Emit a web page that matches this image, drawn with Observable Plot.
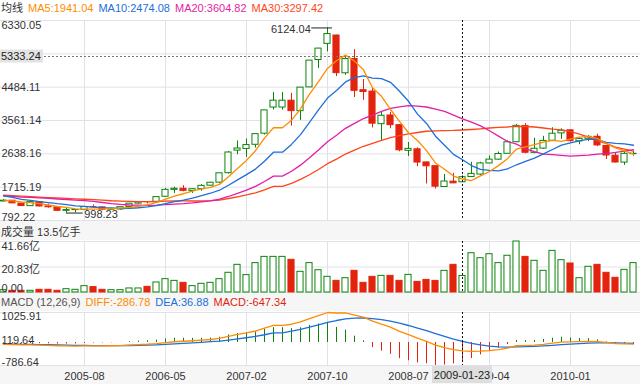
<!DOCTYPE html>
<html><head><meta charset="utf-8">
<script src="https://cdn.jsdelivr.net/npm/d3@7"></script>
<script src="https://cdn.jsdelivr.net/npm/@observablehq/plot@0.6"></script>
<style>
body{margin:0;background:#fff;}
#wrap{position:relative;width:640px;height:384px;overflow:hidden;font-family:"Liberation Sans",Arial,"Noto Sans CJK SC",sans-serif;font-size:11px;color:#333;background:#fff;}
.box{position:absolute;left:0;width:640px;}
.hdr{position:absolute;left:0;width:640px;white-space:nowrap;padding-left:1px;box-sizing:border-box;}
.hdr span{margin-right:5px;}
.band{background:#f6f6f6;}
svg{position:absolute;left:0;}
</style></head><body><div id="wrap"></div>
<script>
// ---------------- data ----------------
const months = ["2004-11","2004-12","2005-01","2005-02","2005-03","2005-04","2005-05","2005-06","2005-07","2005-08",
"2005-09","2005-10","2005-11","2005-12","2006-01","2006-02","2006-03","2006-04","2006-05","2006-06",
"2006-07","2006-08","2006-09","2006-10","2006-11","2006-12","2007-01","2007-02","2007-03","2007-04",
"2007-05","2007-05","2007-06","2007-07","2007-08","2007-09","2007-10","2007-11","2007-12","2008-01",
"2008-02","2008-03","2008-04","2008-05","2008-06","2008-07","2008-08","2008-09","2008-10","2008-11",
"2008-12","2009-01","2009-02","2009-03","2009-04","2009-05","2009-06","2009-07","2009-08","2009-09",
"2009-10","2009-11","2009-12","2010-01","2010-02","2010-03","2010-04","2010-05","2010-06","2010-07",
"2010-08"];
const opens = [1320,1340,1261,1190,1305,1181,1158,1060,1080,1084,1163,1156,1092,1099,1163,1261,1300,1298,1450,1640,1672,1611,1660,1756,1840,2103,2728,2774,2889,3196,3920,3920,4110,3820,4478,5236,5683,5914,4868,5265,4400,4362,3459,3700,3433,2722,2763,2400,2296,1720,1868,1850,1996,2064,2372,2478,2639,2960,3408,2665,2783,2999,3204,3289,2984,3056,3110,2856,2586,2396,2631];
const highs = [1376,1345,1270,1328,1316,1245,1163,1146,1094,1180,1223,1157,1105,1164,1260,1307,1308,1445,1682,1713,1757,1670,1785,1850,2100,2698,2995,3049,3184,3841,4335,4335,4312,4471,5219,5562,6124.04,5925,5337,5522,4696,4472,3786,3786,3445,2952,2804,2412,2312,2068,2100,2032,2402,2404,2579,2688,3000,3454,3478,3068,3123,3361,3333,3306,3077,3141,3181,2859,2656,2700,2707];
const lows = [1301,1259,1178,1184,1167,1135,1044,998.23,1004,1075,1130,1067,1074,1074,1152,1238,1250,1296,1446,1542,1586,1541,1603,1750,1811,2076,2614,2541,2800,3158,3850,3850,3404,3563,4474,5000,5462,4778,4812,4196,4123,3357,2990,3333,2695,2566,2284,1802,1665,1707,1814,1844,1992,2037,2369,2462,2630,2947,2639,2639,2762,2999,3039,2963,2890,2975,2836,2481,2382,2319,2574];
const closes = [1341,1267,1192,1306,1181,1159,1061,1081,1083,1163,1156,1093,1099,1161,1258,1299,1298,1440,1641,1672,1613,1659,1752,1838,2099,2675,2786,2881,3184,3841,4110,4110,3821,4471,5219,5552,5955,4872,5262,4383,4349,3473,3693,3433,2736,2776,2397,2294,1729,1871,1821,1991,2083,2373,2478,2633,2959,3412,2668,2779,2996,3195,3277,2989,3052,3109,2871,2592,2398,2638,2639];
const volumes = [1.9,1.4,1.4,1.4,2.2,2.2,1.4,2.7,2.2,5.2,4.4,2.2,1.9,1.9,3.3,3.3,4.6,8.2,10.9,9.5,7.9,5.2,7.1,7.9,10.9,16.1,22.6,14.2,24.0,29.1,29.1,29.1,26.7,16.9,24.0,18.2,12.8,9.5,11.7,17.7,7.9,12.8,13.6,13.6,9.5,14.4,8.7,10.3,9.5,17.7,22.6,13.5,32.1,28.0,31.3,24.0,30.0,41.66,29.1,25.9,17.7,34.0,26.4,23.7,11.7,21.0,22.6,16.1,12.0,18.5,24.0];
const ma5 = [1357,1334,1304,1285,1257,1221,1180,1158,1113,1109,1109,1115,1119,1134,1153,1182,1223,1291,1387,1470,1533,1605,1667,1707,1792,2005,2230,2456,2725,3073,3360,3360,3567,3885,4292,4635,5004,5214,5372,5205,4964,4468,4232,3866,3537,3222,3007,2727,2386,2213,2022,1941.04,1899,2028,2149,2312,2505,2771,2830,2890,2963,3010,2983,3047,3102,3124,3060,2923,2804,2722,2628];
const ma10 = [1476,1435,1380,1351,1313,1289,1257,1231,1199,1183,1165,1148,1138,1124,1131,1145,1169,1205,1261,1312,1357,1414,1479,1547,1631,1769,1918,2062,2216,2433,2683,2683,2899,3171,3509,3854,4182,4391,4629,4749,4799,4736,4723,4619,4371,4093,3737,3480,3126,2875,2622,2474.08,2313,2207,2181,2167,2223,2335,2429,2520,2637,2758,2877,2939,2996,3044,3035,2953,2926,2912,2876];
const ma20 = [1472,1459,1440,1431,1416,1403,1388,1374,1359,1342,1320,1291,1259,1237,1222,1217,1213,1218,1230,1248,1261,1281,1309,1335,1381,1457,1543,1633,1738,1872,2020,2020,2156,2325,2528,2743,2975,3154,3345,3482,3616,3709,3811,3895,3940,3974,3960,3935,3878,3812,3711,3604.82,3518,3413,3276,3130,2980,2907,2778,2697,2630,2616,2595,2573,2589,2605,2629,2644,2677,2716,2757];
const ma30 = [1496,1480,1465,1453,1440,1428,1416,1407,1393,1381,1370,1355,1339,1329,1321,1317,1315,1318,1326,1332,1333,1332,1332,1340,1359,1401,1448,1499,1559,1643,1735,1735,1820,1929,2060,2206,2365,2492,2632,2742,2848,2925,3012,3090,3142,3193,3229,3263,3272,3280,3285,3297.42,3312,3332,3354,3371,3381,3402,3395,3381,3353,3322,3304,3255,3183,3101,2998,2922,2827,2769,2712];
const diff = [-64.7,-73.0,-84.6,-83.7,-92.0,-99.2,-111.5,-118.3,-122.1,-117.3,-112.7,-112.9,-111.3,-103.8,-89.0,-73.1,-60.0,-37.7,-3.8,25.3,43.1,60.2,80.4,102.1,138.8,211.9,275.6,329.9,392.9,490.2,582.3,582.3,624.7,702.7,815.5,921.1,1025.91,1009.2,1016.0,939.7,866.4,729.3,631.1,526.3,382.6,268.8,146.4,40.6,-87.8,-176.1,-247.2,-286.78,-306.8,-296.0,-275.8,-244.5,-191.2,-111.2,-106.6,-92.8,-63.7,-24.3,13.3,19.7,29.5,41.4,31.3,0.8,-38.6,-49.9,-58.1];
const dea = [-53.5,-57.4,-62.8,-67.0,-72.0,-77.4,-84.2,-91.0,-97.2,-101.2,-103.5,-105.4,-106.6,-106.0,-102.6,-96.7,-89.4,-79.1,-64.0,-46.1,-28.3,-10.6,7.6,26.5,49.0,81.6,120.4,162.3,208.4,264.8,328.3,328.3,387.6,450.6,523.6,603.1,687.6,751.9,804.7,831.7,838.6,816.7,779.6,728.9,659.6,581.4,494.4,403.6,305.3,209.0,117.8,36.88,-31.8,-84.6,-122.8,-147.1,-155.9,-147.0,-138.9,-129.7,-116.5,-98.1,-75.8,-56.7,-39.5,-23.3,-12.4,-9.8,-15.6,-22.5,-29.6];
const macd = [-22.4,-31.2,-43.6,-33.4,-40.0,-43.6,-54.6,-54.6,-49.8,-32.2,-18.4,-15.0,-9.4,4.4,27.2,47.2,58.8,82.8,120.4,142.8,142.8,141.6,145.6,151.2,179.6,260.6,310.4,335.2,369.0,450.8,508.0,508.0,474.2,504.2,583.8,636.0,676.6,514.6,422.6,216.0,55.6,-174.8,-297.0,-405.2,-554.0,-625.2,-696.0,-726.0,-786.64,-770.2,-730.0,-647.34,-550.0,-422.8,-306.0,-194.8,-70.6,71.6,64.6,73.8,105.6,147.6,178.2,152.8,138.0,129.4,87.4,21.2,-46.0,-54.8,-57.0];

const xTickIdx = [9,18,27,36,45,54,63];
const priceTicks = [792.22,1715.19,2638.16,3561.14,4484.11,5407.08,6330.05];
const priceLabels = [792.22,1715.19,2638.16,3561.14,4484.11,6330.05];
const volTicks = [0,20.83,41.66];
const volLabels = ["0.00","20.83亿","41.66亿"];
const macdTicks = [-786.64,119.64,1025.91];
const crossIdx = 51;
const crossPrice = 5333.24;
const crossDate = "2009-01-23";
const crossVolText = "13.5亿手";

// ---------------- style ----------------
const W = 640;
const GRID = "#e1e1ea";
const RED = "#e2240e", GREEN = "#0b840b";
const C5 = "#ff8c00", C10 = "#1d6fd9", C20 = "#e41ea4", C30 = "#ff4519";
const HW = 0.34;
const X = {domain: [-1/3, 637/9], axis: null};
const style = {fontFamily: '"Liberation Sans", Arial, "Noto Sans CJK SC", sans-serif', fontSize: "11px", color: "#333", background: "transparent", overflow: "visible"};

const rows = months.map((m, i) => ({i, m, o: opens[i], h: highs[i], l: lows[i], c: closes[i], v: volumes[i],
  ma5: ma5[i], ma10: ma10[i], ma20: ma20[i], ma30: ma30[i], diff: diff[i], dea: dea[i], macd: macd[i]}));
const up = d => d.c >= d.o;
const fmt2 = d => d.toFixed(2);

const wrap = document.getElementById("wrap");
function addDiv(cls, top, height, html, extra) {
  const el = document.createElement("div");
  el.className = cls;
  el.style.top = top + "px";
  el.style.height = height + "px";
  el.style.lineHeight = height + "px";
  if (extra) Object.assign(el.style, extra);
  el.innerHTML = html;
  wrap.appendChild(el);
  return el;
}
function place(svg, top) { svg.style.top = top + "px"; wrap.appendChild(svg); return svg; }

// bands
addDiv("box band", 220, 20, "");
addDiv("box band", 293, 18, "");
addDiv("box band", 366, 18, "");

// headers
addDiv("hdr", 0, 17, `<span style="color:#333">均线</span><span style="color:${C5}">MA5:${ma5[crossIdx].toFixed(2)}</span><span style="color:${C10}">MA10:${ma10[crossIdx].toFixed(2)}</span><span style="color:${C20}">MA20:${ma20[crossIdx].toFixed(2)}</span><span style="color:${C30}">MA30:${ma30[crossIdx].toFixed(2)}</span>`);
addDiv("hdr", 222, 20, `<span style="color:#333">成交量 ${crossVolText}</span>`);
addDiv("hdr", 293, 18, `<span style="color:#555">MACD (12,26,9)</span><span style="color:${C5}">DIFF:${diff[crossIdx].toFixed(2)}</span><span style="color:${C10}">DEA:${dea[crossIdx].toFixed(2)}</span><span style="color:${RED}">MACD:${macd[crossIdx].toFixed(2)}</span>`);

// ---------------- main price panel ----------------
const maxRow = rows[d3.maxIndex(rows, d => d.h)];
const minRow = rows[d3.minIndex(rows, d => d.l)];
const main = Plot.plot({
  width: W, height: 204, marginTop: 2, marginBottom: 2, marginLeft: 0, marginRight: 0,
  x: X, y: {domain: [priceTicks[0], priceTicks[priceTicks.length - 1]], axis: null},
  style,
  marks: [
    Plot.ruleY(priceTicks, {stroke: GRID}),
    Plot.ruleX(xTickIdx, {stroke: GRID}),
    Plot.ruleX(rows, {x: "i", y1: "l", y2: "h", stroke: d => up(d) ? GREEN : RED}),
    Plot.rect(rows, {x1: d => d.i - HW, x2: d => d.i + HW, y1: "o", y2: "c",
      fill: d => up(d) ? "#fff" : RED, stroke: d => up(d) ? GREEN : RED, strokeWidth: 1}),
    Plot.line(rows, {x: "i", y: "ma30", stroke: C30, strokeWidth: 1.3}),
    Plot.line(rows, {x: "i", y: "ma20", stroke: C20, strokeWidth: 1.3}),
    Plot.line(rows, {x: "i", y: "ma10", stroke: C10, strokeWidth: 1.3}),
    Plot.line(rows, {x: "i", y: "ma5", stroke: C5, strokeWidth: 1.3}),
    Plot.ruleX([crossIdx], {stroke: "#111", strokeDasharray: "2,2"}),
    Plot.ruleY([crossPrice], {stroke: "#777", strokeDasharray: "2,2"}),
    Plot.ruleY([maxRow], {y: "h", x1: d => d.i - 1.75, x2: d => d.i + 0.55, stroke: "#222"}),
    Plot.text([maxRow], {x: d => d.i - 1.75, y: "h", text: d => fmt2(d.h), textAnchor: "end", dx: -1, dy: 2, fill: "#333"}),
    Plot.ruleY([minRow], {y: "l", x1: "i", x2: d => d.i + 1.85, stroke: "#222"}),
    Plot.text([minRow], {x: d => d.i + 1.85, y: "l", text: d => fmt2(d.l), textAnchor: "start", dx: 1, dy: 1, fill: "#333"}),
    Plot.text(priceLabels.slice(1, -1), {frameAnchor: "left", y: d => d, text: fmt2, textAnchor: "start", dx: 1, fill: "#333"}),
    Plot.text(priceLabels.slice(-1), {frameAnchor: "left", y: d => d, text: fmt2, textAnchor: "start", lineAnchor: "top", dx: 1, dy: 1, fill: "#333"}),
    Plot.text(priceLabels.slice(0, 1), {frameAnchor: "left", y: d => d, text: fmt2, textAnchor: "start", lineAnchor: "bottom", dx: 1, dy: 0, fill: "#333"})
  ]
});
place(main, 18);
{
  const cy = main.scale("y").apply(crossPrice);
  const s = d3.select(main);
  s.append("rect").attr("x", 0).attr("y", cy - 6.5).attr("width", 43).attr("height", 13).attr("fill", "#e3e3e3");
  s.append("text").attr("x", 1).attr("y", cy).attr("dy", "0.36em").attr("text-anchor", "start").attr("fill", "#222")
    .style("font-size", "11px").text(fmt2(crossPrice));
}

// ---------------- volume panel ----------------
const vol = Plot.plot({
  width: W, height: 53, marginTop: 1, marginBottom: 1, marginLeft: 0, marginRight: 0,
  x: X, y: {domain: [volTicks[0], volTicks[2]], axis: null},
  style,
  marks: [
    Plot.ruleY(volTicks, {stroke: GRID}),
    Plot.ruleX(xTickIdx, {stroke: GRID}),
    Plot.rect(rows, {x1: d => d.i - HW, x2: d => d.i + HW, y1: 0, y2: "v",
      fill: d => up(d) ? "#fff" : RED, stroke: d => up(d) ? GREEN : RED, strokeWidth: 1}),
    Plot.ruleX([crossIdx], {stroke: "#111", strokeDasharray: "2,2"}),
    Plot.text([2], {frameAnchor: "left", y: d => volTicks[d], text: d => volLabels[d], textAnchor: "start", lineAnchor: "top", dx: 1, dy: 1, fill: "#333"}),
    Plot.text([1], {frameAnchor: "left", y: d => volTicks[d], text: d => volLabels[d], textAnchor: "start", dx: 1, dy: 2, fill: "#333"}),
    Plot.text([0], {frameAnchor: "left", y: d => volTicks[d], text: d => volLabels[d], textAnchor: "start", lineAnchor: "bottom", dx: 1, dy: -1, fill: "#333"})
  ]
});
place(vol, 240);

// ---------------- MACD panel ----------------
const mac = Plot.plot({
  width: W, height: 55, marginTop: 1, marginBottom: 1, marginLeft: 0, marginRight: 0,
  x: X, y: {domain: [macdTicks[0], macdTicks[2]], axis: null},
  style,
  marks: [
    Plot.ruleY([macdTicks[0], macdTicks[2]], {stroke: GRID}),
    Plot.ruleX(xTickIdx, {stroke: GRID}),
    Plot.ruleX(rows, {x: "i", y1: 0, y2: "macd", stroke: d => d.macd >= 0 ? GREEN : RED, strokeWidth: 1}),
    Plot.line(rows, {x: "i", y: "dea", stroke: C10, strokeWidth: 1.3}),
    Plot.line(rows, {x: "i", y: "diff", stroke: C5, strokeWidth: 1.3}),
    Plot.ruleX([crossIdx], {stroke: "#111", strokeDasharray: "2,2"}),
    Plot.text(macdTicks.slice(2), {frameAnchor: "left", y: d => d, text: fmt2, textAnchor: "start", lineAnchor: "top", dx: 1, dy: 0, fill: "#333"}),
    Plot.text(macdTicks.slice(1, 2), {frameAnchor: "left", y: d => d, text: fmt2, textAnchor: "start", dx: 1, dy: 1, fill: "#333"}),
    Plot.text(macdTicks.slice(0, 1), {frameAnchor: "left", y: d => d, text: fmt2, textAnchor: "start", lineAnchor: "bottom", dx: 1, dy: 0, fill: "#333"})
  ]
});
place(mac, 311);

// ---------------- x axis ----------------
const ax = Plot.plot({
  width: W, height: 18, margin: 0,
  x: X, y: {domain: [0, 1], axis: null},
  style,
  marks: [
    Plot.text(xTickIdx, {x: d => d, frameAnchor: "middle", text: d => months[d], fill: "#333", dy: 1})
  ]
});
place(ax, 366);
{
  const cx = ax.scale("x").apply(crossIdx);
  const s = d3.select(ax);
  s.append("rect").attr("x", cx - 30).attr("y", 0).attr("width", 60).attr("height", 17).attr("fill", "#dedede");
  s.append("text").attr("x", cx).attr("y", 9.5).attr("dy", "0.36em").attr("text-anchor", "middle")
    .attr("fill", "#222").style("font-size", "11px").text(crossDate);
}
</script></body></html>
